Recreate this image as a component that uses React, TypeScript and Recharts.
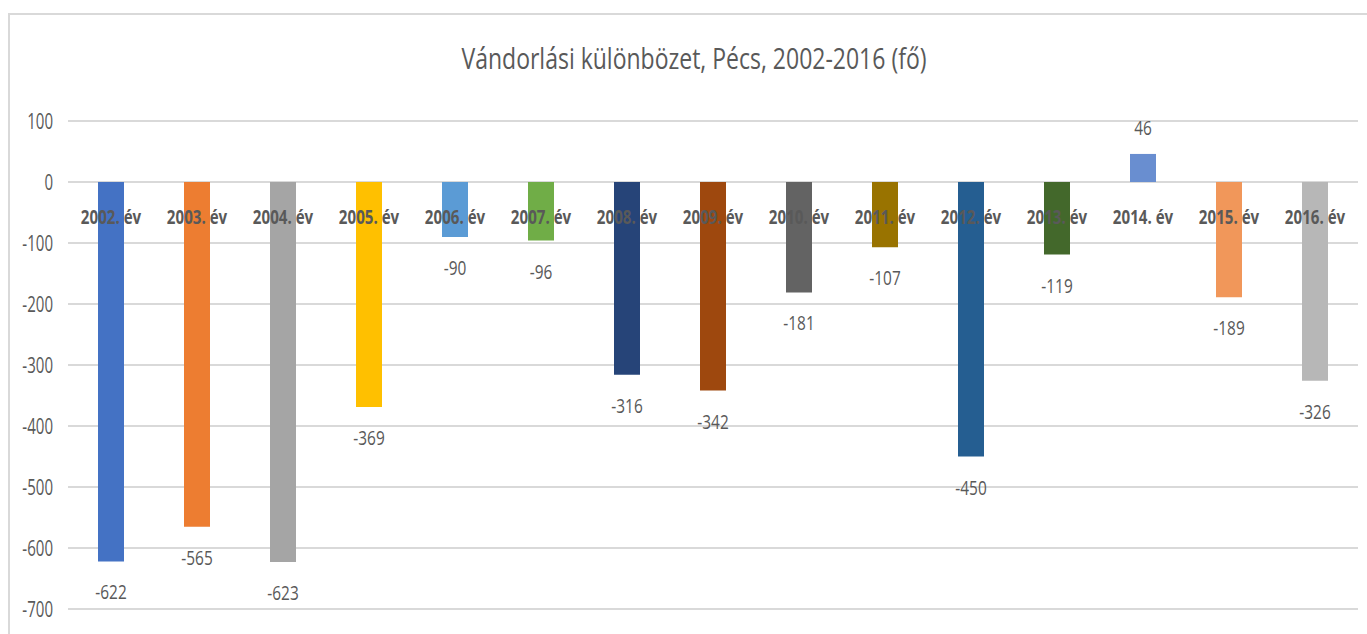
import { BarChart, Bar, Cell, XAxis, YAxis, CartesianGrid, LabelList } from 'recharts';

const YEARS = ['2002. év', '2003. év', '2004. év', '2005. év', '2006. év', '2007. év', '2008. év', '2009. év', '2010. év', '2011. év', '2012. év', '2013. év', '2014. év', '2015. év', '2016. év'];
const VALUES = [-622, -565, -623, -369, -90, -96, -316, -342, -181, -107, -450, -119, 46, -189, -326];
const COLORS = ['#4472C4', '#ED7D31', '#A5A5A5', '#FFC000', '#5B9BD5', '#70AD47', '#264478', '#9E480E', '#636363', '#997300', '#255E91', '#43682B', '#698ED0', '#F1975A', '#B7B7B7'];
const Y_TICKS = [100, 0, -100, -200, -300, -400, -500, -600, -700];
const TITLE = 'Vándorlási különbözet, Pécs, 2002-2016 (fő)';

const data = YEARS.map((year, i) => ({ year, value: VALUES[i] }));

// no Calibri here, so Open Sans squeezed sideways
const FONT = "'Open Sans', 'Noto Sans', sans-serif";
const TEXT = '#595959';

// the bar rect may come with a negative height
const rectOf = (props: any) => {
  const vb = props.viewBox ?? props;
  const y = Number(vb.y);
  const h = Number(vb.height);
  return { x: Number(vb.x), w: Number(vb.width), top: Math.min(y, y + h), bottom: Math.max(y, y + h) };
};

const ValueLabel = (props: any) => {
  const { x, w, top, bottom } = rectOf(props);
  const v = Number(props.value);
  const ty = v < 0 ? bottom + 38 : top - 19;
  return (
    <text transform={`translate(${x + w / 2} ${ty}) scale(0.79 1)`} textAnchor="middle" fill={TEXT} fontSize={19.5} fontFamily={FONT}>
      {v}
    </text>
  );
};

const YearLabel = (props: any) => {
  const { x, w, top, bottom } = rectOf(props);
  const v = VALUES[props.index];
  const zero = v < 0 ? top : bottom;
  return (
    <text transform={`translate(${x + w / 2} ${zero + 42}) scale(0.775 1)`} textAnchor="middle" fill={TEXT} fontSize={19.5} fontWeight="bold" fontFamily={FONT}>
      {props.value}
    </text>
  );
};

const YTick = (props: any) => {
  const { x, y, payload } = props;
  return (
    <text transform={`translate(${x} ${y}) scale(0.7 1)`} dy="0.355em" textAnchor="end" fill={TEXT} fontSize={21.5} fontFamily={FONT}>
      {payload.value}
    </text>
  );
};

export default function App() {
  return (
    <div style={{ position: 'fixed', left: 0, top: 0, width: 1367, height: 634, background: '#fff', overflow: 'hidden' }}>
      <div
        style={{
          position: 'absolute',
          left: 8,
          top: 13,
          width: 1359,
          height: 621,
          borderTop: '2px solid #D9D9D9',
          borderLeft: '2px solid #D9D9D9',
          boxSizing: 'border-box',
        }}
      />
      <svg style={{ position: 'absolute', left: 0, top: 0 }} width={1367} height={100}>
        <text x={694} y={69} textAnchor="middle" fill={TEXT} fontSize={29} fontFamily={FONT} textLength={465} lengthAdjust="spacingAndGlyphs">
          {TITLE}
        </text>
      </svg>
      <div style={{ position: 'absolute', left: 0, top: 0 }}>
        <BarChart width={1367} height={634} data={data} margin={{ top: 121, right: 9, bottom: 25, left: 0 }}>
          <CartesianGrid vertical={false} stroke="#D9D9D9" strokeWidth={2} />
          <XAxis dataKey="year" hide />
          <YAxis
            domain={[-700, 100]}
            ticks={Y_TICKS}
            interval={0}
            width={68}
            axisLine={false}
            tickLine={false}
            tickMargin={9}
            tick={<YTick />}
          />
          <Bar dataKey="value" barSize={26} isAnimationActive={false}>
            {data.map((d, i) => (
              <Cell key={d.year} fill={COLORS[i]} />
            ))}
            <LabelList dataKey="value" content={ValueLabel} />
            <LabelList dataKey="year" content={YearLabel} />
          </Bar>
        </BarChart>
      </div>
    </div>
  );
}
